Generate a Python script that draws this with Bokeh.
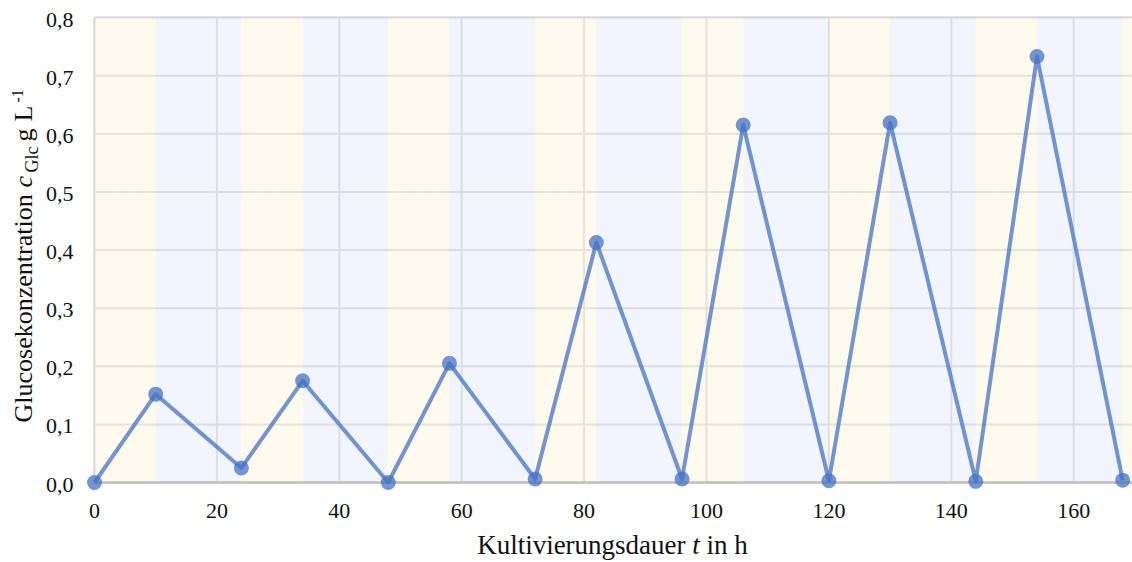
import math
from bokeh.plotting import figure
from bokeh.models import Range1d
from bokeh.core.properties import value
from bokeh.embed import file_html
from bokeh.resources import INLINE

# ---- data -------------------------------------------------------------
t_h = [0, 10, 24, 34, 48, 58, 72, 82, 96, 106, 120, 130, 144, 154, 168]
glc = [0.000, 0.152, 0.025, 0.175, 0.000, 0.205, 0.006, 0.413, 0.006,
       0.615, 0.003, 0.619, 0.002, 0.733, 0.004]

band_left = [0, 10, 24, 34, 48, 58, 72, 82, 96, 106, 120, 130, 144, 154, 168]
band_right = [10, 24, 34, 48, 58, 72, 82, 96, 106, 120, 130, 144, 154, 168, 172]
band_kind = ["hell", "dunkel", "hell", "dunkel", "hell", "dunkel", "hell", "dunkel",
             "hell", "dunkel", "hell", "dunkel", "hell", "dunkel", "hell"]

x_ticks = [0, 20, 40, 60, 80, 100, 120, 140, 160]
y_ticks = [0.0, 0.1, 0.2, 0.3, 0.4, 0.5, 0.6, 0.7, 0.8]
x_tick_labels = [str(v) for v in x_ticks]
y_tick_labels = [f"{v:.1f}".replace(".", ",") for v in y_ticks]

# ---- layout (the whole canvas is the plotting frame) -------------------
W, H = 1132, 562
PX0, PXS = 94.0, 6.12        # pixel of x = 0, pixels per hour
PY0, PYS = 482.0, 581.25     # pixel of y = 0, pixels per g/L
X_START, X_END = -PX0 / PXS, (W - PX0) / PXS
Y_START, Y_END = -(H - PY0) / PYS, PY0 / PYS
X_MAX = X_END
Y_MAX = 0.8


def dx(px):
    return (px - PX0) / PXS


def dy(py):
    return (PY0 - py) / PYS


FONT = value("Liberation Serif")
TXT = "#111111"

p = figure(width=W, height=H, output_backend="svg", toolbar_location=None,
           x_range=Range1d(X_START, X_END), y_range=Range1d(Y_START, Y_END),
           min_border=0)
p.outline_line_color = None
p.background_fill_color = "white"
p.axis.visible = False
p.grid.visible = False

# grid lines (under the translucent bands)
GRID = "#CCCCD0"
p.segment(x0=x_ticks, y0=[0] * len(x_ticks), x1=x_ticks, y1=[Y_MAX] * len(x_ticks),
          line_color=GRID, line_width=2)
p.segment(x0=[0] * len(y_ticks), y0=y_ticks, x1=[X_MAX] * len(y_ticks), y1=y_ticks,
          line_color=GRID, line_width=2)

# light / dark phase bands
band_colors = ["#FFF6E0" if k == "hell" else "#E8ECF8" for k in band_kind]
p.quad(left=band_left, right=band_right, bottom=[0] * len(band_left),
       top=[Y_MAX] * len(band_left), fill_color=band_colors, fill_alpha=0.55,
       line_color=None)

# axis line at y = 0
p.segment(x0=[0], y0=[0], x1=[X_MAX], y1=[0], line_color="#BFBFBF", line_width=2.5)

# series
p.line(t_h, glc, line_color="#4472C4", line_alpha=0.75, line_width=4,
       line_join="round")
p.scatter(t_h, glc, size=15, fill_color="#4472C4", fill_alpha=0.75,
          line_color=None)

# tick labels
p.text(x=x_ticks, y=[0] * len(x_ticks), text=x_tick_labels,
       text_font=FONT, text_font_size="22px", text_color=TXT,
       text_align="center", text_baseline="middle", y_offset=28)
p.text(x=[0] * len(y_ticks), y=y_ticks, text=y_tick_labels,
       text_font=FONT, text_font_size="22px", text_color=TXT,
       text_align="right", text_baseline="middle", x_offset=-21, y_offset=2)

# ---- x axis title: "Kultivierungsdauer t in h" -------------------------
XT_SIZE = 27
w_a = 7.721 * XT_SIZE      # "Kultivierungsdauer"
w_sp = 0.25 * XT_SIZE      # space
w_b = 0.278 * XT_SIZE      # "t"
w_c = 1.528 * XT_SIZE      # "in h"
total = w_a + w_sp + w_b + w_sp + w_c
start = 612 - total / 2
mid_y = 554 - 0.3375 * XT_SIZE
for txt, off, style in [("Kultivierungsdauer", 0, "normal"),
                        ("t", w_a + w_sp, "italic"),
                        ("in h", w_a + w_sp + w_b + w_sp, "normal")]:
    p.text(x=[dx(start + off)], y=[dy(mid_y)], text=[txt],
           text_font=FONT, text_font_size=f"{XT_SIZE}px",
           text_font_style=value(style), text_color=TXT,
           text_align="left", text_baseline="middle")

# ---- y axis title: "Glucosekonzentration c_Glc g L^-1" (rotated) -------
rot = math.pi / 2
# (text, start pixel y, middle pixel x, size, style)
pieces = [
    ("Glucosekonzentration", 422, 23.2, "26px", "normal"),
    ("c", 187, 23.2, "26px", "italic"),
    ("Glc", 172, 31.5, "18px", "normal"),
    ("g", 141, 23.2, "26px", "normal"),
    ("L", 121, 23.2, "26px", "normal"),
    ("-1", 102, 17.0, "16px", "normal"),
]
for txt, py, px, size, style in pieces:
    p.text(x=[dx(px)], y=[dy(py)], text=[txt], angle=rot,
           text_font=FONT, text_font_size=size,
           text_font_style=value(style), text_color=TXT,
           text_align="left", text_baseline="middle")

open("out.html", "w").write(file_html(p, INLINE))
